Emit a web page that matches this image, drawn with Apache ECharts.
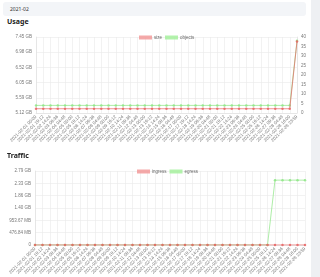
<!DOCTYPE html>
<html>
<head>
<meta charset="utf-8">
<script src="https://cdn.jsdelivr.net/npm/echarts@6/dist/echarts.min.js"></script>
<style>
  html, body { margin: 0; padding: 0; }
  body {
    width: 320px;
    height: 277px;
    overflow: hidden;
    background: #eef0f3;
    font-family: "Noto Sans", "DejaVu Sans", sans-serif;
    position: relative;
  }
  .card {
    position: absolute;
    left: 0;
    top: 0;
    width: 311px;
    height: 277px;
    background: #fff;
  }
  .month {
    position: absolute;
    left: 3px;
    top: 2px;
    width: 303px;
    height: 14px;
    background: #f3f5f8;
    border-radius: 3px;
    font-size: 5px;
    line-height: 14px;
    color: #333;
    padding-left: 7px;
    box-sizing: border-box;
  }
  .title {
    position: absolute;
    left: 7px;
    font-size: 7px;
    font-weight: bold;
    color: #222;
  }
  .chart { position: absolute; left: 0; width: 320px; }
</style>
</head>
<body>
<div class="card"></div>
<div class="month">2021-02</div>
<div class="title" style="top:17px">Usage</div>
<div id="usage" class="chart" style="top:26px;height:130px"></div>
<div class="title" style="top:151px">Traffic</div>
<div id="traffic" class="chart" style="top:160px;height:117px"></div>
<script>
const timeLabels = [
  '2021-02-01 00:00', '2021-02-01 19:12', '2021-02-02 14:24', '2021-02-03 09:36',
  '2021-02-04 04:48', '2021-02-05 00:00', '2021-02-05 19:12', '2021-02-06 14:24',
  '2021-02-07 09:36', '2021-02-08 04:48', '2021-02-09 00:00', '2021-02-09 19:12',
  '2021-02-10 14:24', '2021-02-11 09:36', '2021-02-12 04:48', '2021-02-13 00:00',
  '2021-02-13 19:12', '2021-02-14 14:24', '2021-02-15 09:36', '2021-02-16 04:48',
  '2021-02-17 00:00', '2021-02-17 19:12', '2021-02-18 14:24', '2021-02-19 09:36',
  '2021-02-20 04:48', '2021-02-21 00:00', '2021-02-21 19:12', '2021-02-22 14:24',
  '2021-02-23 09:36', '2021-02-24 04:48', '2021-02-25 00:00', '2021-02-25 19:12',
  '2021-02-26 14:24', '2021-02-27 09:36', '2021-02-28 04:48', '2021-02-28 16:00',
  '2021-02-28 23:59'
]

// bytes
const sizeHistory = [
  5.64e9, 5.64e9, 5.64e9, 5.64e9, 5.64e9, 5.64e9, 5.64e9, 5.64e9, 5.64e9, 5.64e9,
  5.64e9, 5.64e9, 5.64e9, 5.64e9, 5.64e9, 5.64e9, 5.64e9, 5.64e9, 5.64e9, 5.64e9,
  5.64e9, 5.64e9, 5.64e9, 5.64e9, 5.64e9, 5.64e9, 5.64e9, 5.64e9, 5.64e9, 5.64e9,
  5.64e9, 5.64e9, 5.64e9, 5.64e9, 5.64e9, 5.64e9, 7.85e9
]
const objectsHistory = [
  4, 4, 4, 4, 4, 4, 4, 4, 4, 4, 4, 4, 4, 4, 4, 4, 4, 4, 4, 4,
  4, 4, 4, 4, 4, 4, 4, 4, 4, 4, 4, 4, 4, 4, 4, 4, 38
]
const ingressHistory = [
  0, 0, 0, 0, 0, 0, 0, 0, 0, 0, 0, 0, 0, 0, 0, 0, 0, 0, 0, 0,
  0, 0, 0, 0, 0, 0, 0, 0, 0, 0, 0, 0, 0, 0, 0, 0, 0
]
const egressHistory = [
  0, 0, 0, 0, 0, 0, 0, 0, 0, 0, 0, 0, 0, 0, 0, 0, 0, 0, 0, 0,
  0, 0, 0, 0, 0, 0, 0, 0, 0, 0, 0, 0, 2.63e9, 2.63e9, 2.63e9, 2.63e9, 2.63e9
]

const RED = '#e86464'
const RED_BOX = '#f29a9a'
const GREEN = '#8ee686'
const GREEN_BOX = '#a6f09e'

function formatBytes(v) {
  if (v === 0) return '0'
  if (v >= 1073741824) return (v / 1073741824).toFixed(2) + ' GB'
  return (v / 1048576).toFixed(2) + ' MB'
}

const labelStyle = { color: '#777', fontSize: 4.5 }
const gridLine = { show: true, lineStyle: { color: '#e9e9e9', width: 0.6 } }

function xAxisOpt() {
  return {
    type: 'category',
    data: timeLabels,
    boundaryGap: false,
    axisLine: { lineStyle: { color: '#ddd', width: 0.6 } },
    axisTick: { show: false },
    axisLabel: { ...labelStyle, rotate: 45, interval: 0, margin: 3 },
    splitLine: gridLine
  }
}

// first dataset drawn on top, semi transparent so overlaps blend
function lineSeries(name, data, color, yAxisIndex, z) {
  return {
    name,
    type: 'line',
    data,
    yAxisIndex: yAxisIndex || 0,
    z: z,
    symbol: 'circle',
    symbolSize: 2.5,
    showSymbol: true,
    lineStyle: { color, width: 0.9, opacity: 0.8 },
    itemStyle: { color, opacity: 0.85 },
    animation: false
  }
}

const usageChart = echarts.init(document.getElementById('usage'))
usageChart.setOption({
  animation: false,
  legend: {
    data: [
      { name: 'size', itemStyle: { color: RED_BOX } },
      { name: 'objects', itemStyle: { color: GREEN_BOX } }
    ],
    left: 134,
    top: 4,
    itemWidth: 13,
    itemHeight: 4,
    itemGap: 3,
    icon: 'rect',
    textStyle: { color: '#666', fontSize: 4.5, padding: [0, 0, 0, -3] }
  },
  grid: { left: 36, right: 23, top: 11, bottom: 43 },
  xAxis: xAxisOpt(),
  yAxis: [
    {
      type: 'value',
      min: 5.5e9,
      max: 8e9,
      interval: 5e8,
      axisLine: { show: true, lineStyle: { color: '#ddd', width: 0.6 } },
      axisLabel: { ...labelStyle, margin: 4, formatter: formatBytes },
      splitLine: gridLine
    },
    {
      type: 'value',
      min: 0,
      max: 40,
      interval: 5,
      axisLine: { show: true, lineStyle: { color: '#ddd', width: 0.6 } },
      axisLabel: { ...labelStyle, margin: 4 },
      splitLine: { show: false }
    }
  ],
  series: [
    lineSeries('size', sizeHistory, RED, 0, 3),
    lineSeries('objects', objectsHistory, GREEN, 1, 2)
  ]
})

const trafficChart = echarts.init(document.getElementById('traffic'))
trafficChart.setOption({
  animation: false,
  legend: {
    data: [
      { name: 'ingress', itemStyle: { color: RED_BOX } },
      { name: 'egress', itemStyle: { color: GREEN_BOX } }
    ],
    left: 132,
    top: 4,
    itemWidth: 13,
    itemHeight: 4,
    itemGap: 3,
    icon: 'rect',
    textStyle: { color: '#666', fontSize: 4.5, padding: [0, 0, 0, -3] }
  },
  grid: { left: 35, right: 15, top: 11, bottom: 29 },
  xAxis: xAxisOpt(),
  yAxis: {
    type: 'value',
    min: 0,
    max: 3e9,
    interval: 5e8,
    axisLine: { show: true, lineStyle: { color: '#ddd', width: 0.6 } },
    axisLabel: { ...labelStyle, margin: 4, formatter: formatBytes },
    splitLine: gridLine
  },
  series: [
    lineSeries('ingress', ingressHistory, RED, 0, 3),
    lineSeries('egress', egressHistory, GREEN, 0, 2)
  ]
})
</script>
</body>
</html>
